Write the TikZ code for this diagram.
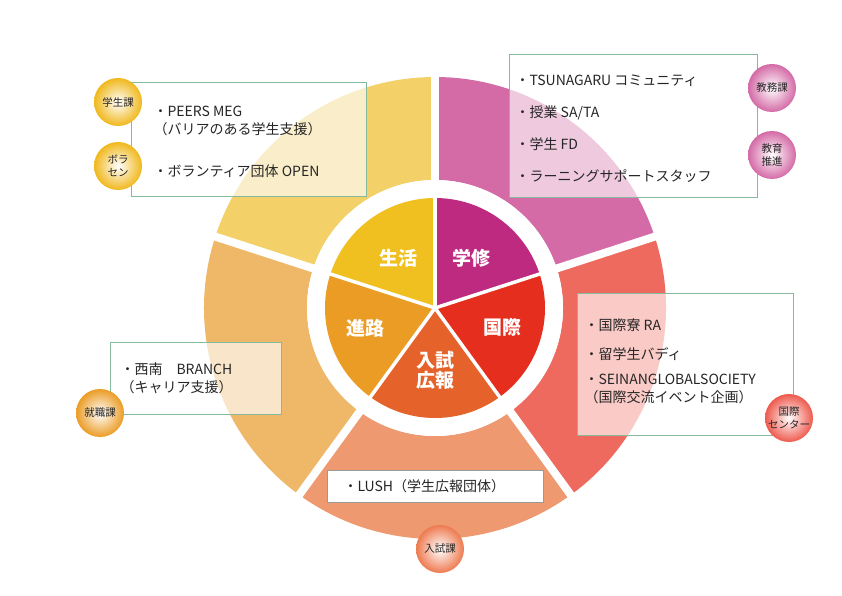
\documentclass[tikz,border=0pt]{standalone}
\usepackage{fontspec}
\setmainfont{Noto Sans CJK JP}
\usetikzlibrary{shadings,calc}
\definecolor{bdr}{HTML}{86BA9C}
\definecolor{cy}{HTML}{F0B81C}
\definecolor{cp}{HTML}{D46AA6}
\definecolor{cr}{HTML}{EE5A4E}
\definecolor{co}{HTML}{EB9C25}
\definecolor{cb}{HTML}{EE7A50}
\begin{document}
\begin{tikzpicture}[x=1pt,y=1pt,
  infobox/.style={draw=bdr,line width=0.8pt,fill=white,fill opacity=0.65,text opacity=1},
  seglabel/.style={text=white,font=\bfseries\fontsize{19}{21}\selectfont},
  itemtext/.style={font=\fontsize{14}{18}\selectfont,text=black!85,align=left,anchor=west},
  badge/.style={circle,minimum size=48pt,inner sep=0pt,font=\fontsize{10.5}{13}\selectfont,align=center,text=black!85}]
\useasboundingbox (0,0) rectangle (842,595);
\coordinate (c) at (435,287);
\def\Ro{231}\def\Ri{128}\def\Rp{110}
% outer ring
\foreach \a/\b/\col in {18/90/D46AA6, -54/18/EE6A5E, -126/-54/EE9970, -198/-126/EFB868, 90/162/F3D168}{
  \definecolor{tmp}{HTML}{\col}
  \fill[tmp] ($(c)+(\a:\Ro)$) arc[start angle=\a,end angle=\b,radius=\Ro] -- ($(c)+(\b:\Ri)$) arc[start angle=\b,end angle=\a,radius=\Ri] -- cycle;
}
\foreach \a in {90,18,-54,-126,162}{
  \draw[white,line width=8pt] (c) -- ($(c)+(\a:\Ro+5)$);
}
\fill[white] (c) circle (\Ri);
% inner pie
\foreach \a/\b/\col in {18/90/BE2A80, -54/18/E52E1E, -126/-54/E5622A, -198/-126/EB9C25, 90/162/F0C020}{
  \definecolor{tmp}{HTML}{\col}
  \fill[tmp] (c) -- ($(c)+(\a:\Rp)$) arc[start angle=\a,end angle=\b,radius=\Rp] -- cycle;
}
\foreach \a in {90,18,-54,-126,162}{
  \draw[white,line width=3.5pt] (c) -- ($(c)+(\a:\Rp+2)$);
}
\node[seglabel] (s1) at ($(c)+(126:62)$) {生活};
\node[seglabel] (s2) at ($(c)+(54:62)$) {学修};
\node[seglabel] (s3) at ($(c)+(-16:70)$) {国際};
\node[seglabel,align=center,font=\bfseries\fontsize{19}{20}\selectfont] (s4) at ($(c)+(-90:62)$) {入試\\広報};
\node[seglabel] (s5) at ($(c)+(196:72)$) {進路};
% boxes
\node[infobox,minimum width=235pt,minimum height=114pt] (b1) at (248.5,456) {};
\node[itemtext] (t1) at (150,474) {・PEERS MEG\\（バリアのある学生支援）};
\node[itemtext] (t2) at (150,424) {・ボランティア団体 OPEN};
\node[infobox,minimum width=248pt,minimum height=143pt] (b2) at (633,469.5) {};
\node[itemtext,font=\fontsize{14}{32}\selectfont] (t3) at (512,466) {・TSUNAGARU コミュニティ\\・授業 SA/TA\\・学生 FD\\・ラーニングサポートスタッフ};
\node[infobox,minimum width=216pt,minimum height=142pt] (b3) at (685,231) {};
\node[itemtext] (t4) at (581,270) {・国際寮 RA};
\node[itemtext] (t5) at (581,241) {・留学生バディ};
\node[itemtext] (t6) at (581,206) {・SEINANGLOBALSOCIETY\\（国際交流イベント企画）};
\node[infobox,minimum width=171pt,minimum height=72pt] (b4) at (195.5,217) {};
\node[itemtext] (t7) at (117,217) {・西南　BRANCH\\（キャリア支援）};
\node[draw=black!40,line width=0.6pt,fill=white,minimum width=216pt,minimum height=32pt] (b5) at (435,109) {};
\node[itemtext] (t8) at (340,109) {・LUSH（学生広報団体）};
% badges
\foreach \n/\x/\y/\txt/\cc in {g1/118/493/学生課/cy, g2/118/429/ボラ\\セン/cy, g3/772/507/教務課/cp, g4/772/440/教育\\推進/cp, g5/789/177/国際\\センター/cr, g6/100/182/就職課/co, g7/440/46/入試課/cb}{
  \node[badge,inner color=white,outer color=\cc] (\n) at (\x,\y) {\txt};
}
\end{tikzpicture}
\end{document}
